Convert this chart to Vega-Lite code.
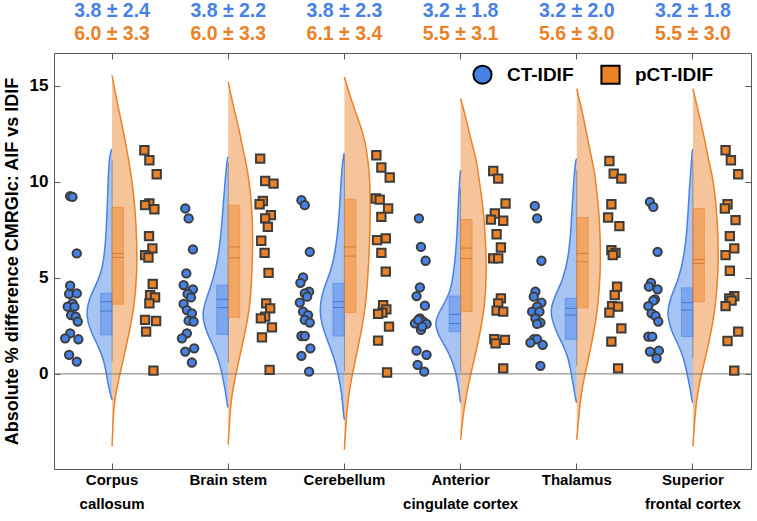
{
"$schema": "https://vega.github.io/schema/vega-lite/v6.json",
"width": 697, "height": 416,
"autosize": {"type": "none"},
"padding": {"left": 54, "top": 53, "right": 6, "bottom": 52},
"config": {"font": "Liberation Sans", "view": {"stroke": "#5a5a5a", "strokeWidth": 1}, "axis": {"grid": false, "domain": false}},
"resolve": {"scale": {"x": "independent"}, "axis": {"y": "independent", "x": "independent"}},
"datasets": {
"violin": [
{"region":"Corpus callosum","group":"CT-IDIF","y":11.7,"w":0},{"region":"Corpus callosum","group":"CT-IDIF","y":11.6,"w":0.013},{"region":"Corpus callosum","group":"CT-IDIF","y":11.0,"w":0.026},{"region":"Corpus callosum","group":"CT-IDIF","y":10.42,"w":0.032},{"region":"Corpus callosum","group":"CT-IDIF","y":7.83,"w":0.046},{"region":"Corpus callosum","group":"CT-IDIF","y":6.1,"w":0.066},{"region":"Corpus callosum","group":"CT-IDIF","y":5.23,"w":0.095},{"region":"Corpus callosum","group":"CT-IDIF","y":4.54,"w":0.146},{"region":"Corpus callosum","group":"CT-IDIF","y":4.02,"w":0.189},{"region":"Corpus callosum","group":"CT-IDIF","y":3.5,"w":0.213},{"region":"Corpus callosum","group":"CT-IDIF","y":2.98,"w":0.218},{"region":"Corpus callosum","group":"CT-IDIF","y":2.46,"w":0.198},{"region":"Corpus callosum","group":"CT-IDIF","y":1.94,"w":0.161},{"region":"Corpus callosum","group":"CT-IDIF","y":1.42,"w":0.118},{"region":"Corpus callosum","group":"CT-IDIF","y":0.9,"w":0.083},{"region":"Corpus callosum","group":"CT-IDIF","y":0.38,"w":0.06},{"region":"Corpus callosum","group":"CT-IDIF","y":-0.14,"w":0.046},{"region":"Corpus callosum","group":"CT-IDIF","y":-0.64,"w":0.03},{"region":"Corpus callosum","group":"CT-IDIF","y":-1.0,"w":0.017},{"region":"Corpus callosum","group":"CT-IDIF","y":-1.35,"w":0},
{"region":"Corpus callosum","group":"pCT-IDIF","y":15.53,"w":0},{"region":"Corpus callosum","group":"pCT-IDIF","y":14.23,"w":0.04},{"region":"Corpus callosum","group":"pCT-IDIF","y":12.5,"w":0.101},{"region":"Corpus callosum","group":"pCT-IDIF","y":12.16,"w":0.112},{"region":"Corpus callosum","group":"pCT-IDIF","y":10.42,"w":0.164},{"region":"Corpus callosum","group":"pCT-IDIF","y":8.69,"w":0.198},{"region":"Corpus callosum","group":"pCT-IDIF","y":6.96,"w":0.213},{"region":"Corpus callosum","group":"pCT-IDIF","y":5.23,"w":0.215},{"region":"Corpus callosum","group":"pCT-IDIF","y":3.5,"w":0.192},{"region":"Corpus callosum","group":"pCT-IDIF","y":1.77,"w":0.135},{"region":"Corpus callosum","group":"pCT-IDIF","y":0.03,"w":0.069},{"region":"Corpus callosum","group":"pCT-IDIF","y":-1.18,"w":0.026},{"region":"Corpus callosum","group":"pCT-IDIF","y":-2.04,"w":0.011},{"region":"Corpus callosum","group":"pCT-IDIF","y":-3.77,"w":0},
{"region":"Brain stem","group":"CT-IDIF","y":11.3,"w":0},{"region":"Brain stem","group":"CT-IDIF","y":11.12,"w":0.011},{"region":"Brain stem","group":"CT-IDIF","y":9.56,"w":0.034},{"region":"Brain stem","group":"CT-IDIF","y":7.83,"w":0.054},{"region":"Brain stem","group":"CT-IDIF","y":6.1,"w":0.083},{"region":"Brain stem","group":"CT-IDIF","y":4.88,"w":0.132},{"region":"Brain stem","group":"CT-IDIF","y":4.02,"w":0.183},{"region":"Brain stem","group":"CT-IDIF","y":3.32,"w":0.218},{"region":"Brain stem","group":"CT-IDIF","y":2.81,"w":0.218},{"region":"Brain stem","group":"CT-IDIF","y":2.11,"w":0.183},{"region":"Brain stem","group":"CT-IDIF","y":1.42,"w":0.126},{"region":"Brain stem","group":"CT-IDIF","y":0.73,"w":0.083},{"region":"Brain stem","group":"CT-IDIF","y":0.03,"w":0.054},{"region":"Brain stem","group":"CT-IDIF","y":-0.83,"w":0.026},{"region":"Brain stem","group":"CT-IDIF","y":-1.7,"w":0.006},{"region":"Brain stem","group":"CT-IDIF","y":-1.75,"w":0},
{"region":"Brain stem","group":"pCT-IDIF","y":15.19,"w":0},{"region":"Brain stem","group":"pCT-IDIF","y":14.23,"w":0.032},{"region":"Brain stem","group":"pCT-IDIF","y":12.5,"w":0.103},{"region":"Brain stem","group":"pCT-IDIF","y":12.16,"w":0.109},{"region":"Brain stem","group":"pCT-IDIF","y":10.42,"w":0.175},{"region":"Brain stem","group":"pCT-IDIF","y":8.69,"w":0.204},{"region":"Brain stem","group":"pCT-IDIF","y":6.96,"w":0.213},{"region":"Brain stem","group":"pCT-IDIF","y":5.23,"w":0.204},{"region":"Brain stem","group":"pCT-IDIF","y":3.5,"w":0.189},{"region":"Brain stem","group":"pCT-IDIF","y":1.77,"w":0.132},{"region":"Brain stem","group":"pCT-IDIF","y":0.03,"w":0.066},{"region":"Brain stem","group":"pCT-IDIF","y":-1.18,"w":0.028},{"region":"Brain stem","group":"pCT-IDIF","y":-2.39,"w":0.011},{"region":"Brain stem","group":"pCT-IDIF","y":-3.69,"w":0},
{"region":"Cerebellum","group":"CT-IDIF","y":11.5,"w":0},{"region":"Cerebellum","group":"CT-IDIF","y":11.46,"w":0.006},{"region":"Cerebellum","group":"CT-IDIF","y":10.42,"w":0.026},{"region":"Cerebellum","group":"CT-IDIF","y":8.69,"w":0.04},{"region":"Cerebellum","group":"CT-IDIF","y":6.96,"w":0.063},{"region":"Cerebellum","group":"CT-IDIF","y":5.58,"w":0.103},{"region":"Cerebellum","group":"CT-IDIF","y":4.71,"w":0.161},{"region":"Cerebellum","group":"CT-IDIF","y":4.02,"w":0.198},{"region":"Cerebellum","group":"CT-IDIF","y":3.32,"w":0.213},{"region":"Cerebellum","group":"CT-IDIF","y":2.63,"w":0.198},{"region":"Cerebellum","group":"CT-IDIF","y":1.77,"w":0.149},{"region":"Cerebellum","group":"CT-IDIF","y":0.9,"w":0.092},{"region":"Cerebellum","group":"CT-IDIF","y":0.03,"w":0.054},{"region":"Cerebellum","group":"CT-IDIF","y":-1.0,"w":0.023},{"region":"Cerebellum","group":"CT-IDIF","y":-2.04,"w":0.009},{"region":"Cerebellum","group":"CT-IDIF","y":-2.39,"w":0},
{"region":"Cerebellum","group":"pCT-IDIF","y":15.45,"w":0},{"region":"Cerebellum","group":"pCT-IDIF","y":14.23,"w":0.06},{"region":"Cerebellum","group":"pCT-IDIF","y":13.37,"w":0.112},{"region":"Cerebellum","group":"pCT-IDIF","y":12.16,"w":0.181},{"region":"Cerebellum","group":"pCT-IDIF","y":10.42,"w":0.218},{"region":"Cerebellum","group":"pCT-IDIF","y":8.69,"w":0.224},{"region":"Cerebellum","group":"pCT-IDIF","y":6.96,"w":0.218},{"region":"Cerebellum","group":"pCT-IDIF","y":5.23,"w":0.204},{"region":"Cerebellum","group":"pCT-IDIF","y":3.5,"w":0.183},{"region":"Cerebellum","group":"pCT-IDIF","y":1.77,"w":0.132},{"region":"Cerebellum","group":"pCT-IDIF","y":0.03,"w":0.069},{"region":"Cerebellum","group":"pCT-IDIF","y":-1.18,"w":0.034},{"region":"Cerebellum","group":"pCT-IDIF","y":-2.39,"w":0.015},{"region":"Cerebellum","group":"pCT-IDIF","y":-3.95,"w":0},
{"region":"Anterior cingulate cortex","group":"CT-IDIF","y":10.6,"w":0},{"region":"Anterior cingulate cortex","group":"CT-IDIF","y":9.6,"w":0.015},{"region":"Anterior cingulate cortex","group":"CT-IDIF","y":7.8,"w":0.026},{"region":"Anterior cingulate cortex","group":"CT-IDIF","y":6.1,"w":0.043},{"region":"Anterior cingulate cortex","group":"CT-IDIF","y":4.9,"w":0.069},{"region":"Anterior cingulate cortex","group":"CT-IDIF","y":4.2,"w":0.095},{"region":"Anterior cingulate cortex","group":"CT-IDIF","y":3.6,"w":0.146},{"region":"Anterior cingulate cortex","group":"CT-IDIF","y":3.1,"w":0.194},{"region":"Anterior cingulate cortex","group":"CT-IDIF","y":2.7,"w":0.218},{"region":"Anterior cingulate cortex","group":"CT-IDIF","y":2.3,"w":0.207},{"region":"Anterior cingulate cortex","group":"CT-IDIF","y":1.9,"w":0.181},{"region":"Anterior cingulate cortex","group":"CT-IDIF","y":1.3,"w":0.12},{"region":"Anterior cingulate cortex","group":"CT-IDIF","y":0.7,"w":0.073},{"region":"Anterior cingulate cortex","group":"CT-IDIF","y":0.1,"w":0.043},{"region":"Anterior cingulate cortex","group":"CT-IDIF","y":-0.6,"w":0.02},{"region":"Anterior cingulate cortex","group":"CT-IDIF","y":-1.5,"w":0},
{"region":"Anterior cingulate cortex","group":"pCT-IDIF","y":14.32,"w":0},{"region":"Anterior cingulate cortex","group":"pCT-IDIF","y":13.54,"w":0.037},{"region":"Anterior cingulate cortex","group":"pCT-IDIF","y":12.16,"w":0.09},{"region":"Anterior cingulate cortex","group":"pCT-IDIF","y":11.1,"w":0.138},{"region":"Anterior cingulate cortex","group":"pCT-IDIF","y":10.42,"w":0.152},{"region":"Anterior cingulate cortex","group":"pCT-IDIF","y":8.69,"w":0.195},{"region":"Anterior cingulate cortex","group":"pCT-IDIF","y":6.96,"w":0.215},{"region":"Anterior cingulate cortex","group":"pCT-IDIF","y":5.23,"w":0.224},{"region":"Anterior cingulate cortex","group":"pCT-IDIF","y":3.5,"w":0.209},{"region":"Anterior cingulate cortex","group":"pCT-IDIF","y":1.77,"w":0.157},{"region":"Anterior cingulate cortex","group":"pCT-IDIF","y":0.03,"w":0.089},{"region":"Anterior cingulate cortex","group":"pCT-IDIF","y":-1.18,"w":0.046},{"region":"Anterior cingulate cortex","group":"pCT-IDIF","y":-2.39,"w":0.017},{"region":"Anterior cingulate cortex","group":"pCT-IDIF","y":-3.43,"w":0},
{"region":"Thalamus","group":"CT-IDIF","y":11.2,"w":0},{"region":"Thalamus","group":"CT-IDIF","y":11.12,"w":0.011},{"region":"Thalamus","group":"CT-IDIF","y":9.56,"w":0.032},{"region":"Thalamus","group":"CT-IDIF","y":7.83,"w":0.046},{"region":"Thalamus","group":"CT-IDIF","y":6.1,"w":0.069},{"region":"Thalamus","group":"CT-IDIF","y":4.88,"w":0.12},{"region":"Thalamus","group":"CT-IDIF","y":4.19,"w":0.178},{"region":"Thalamus","group":"CT-IDIF","y":3.5,"w":0.221},{"region":"Thalamus","group":"CT-IDIF","y":2.98,"w":0.221},{"region":"Thalamus","group":"CT-IDIF","y":2.29,"w":0.183},{"region":"Thalamus","group":"CT-IDIF","y":1.59,"w":0.126},{"region":"Thalamus","group":"CT-IDIF","y":0.9,"w":0.075},{"region":"Thalamus","group":"CT-IDIF","y":0.03,"w":0.047},{"region":"Thalamus","group":"CT-IDIF","y":-0.66,"w":0.028},{"region":"Thalamus","group":"CT-IDIF","y":-1.44,"w":0.006},{"region":"Thalamus","group":"CT-IDIF","y":-1.5,"w":0},
{"region":"Thalamus","group":"pCT-IDIF","y":14.84,"w":0},{"region":"Thalamus","group":"pCT-IDIF","y":13.37,"w":0.058},{"region":"Thalamus","group":"pCT-IDIF","y":12.16,"w":0.095},{"region":"Thalamus","group":"pCT-IDIF","y":10.77,"w":0.144},{"region":"Thalamus","group":"pCT-IDIF","y":10.42,"w":0.155},{"region":"Thalamus","group":"pCT-IDIF","y":8.69,"w":0.189},{"region":"Thalamus","group":"pCT-IDIF","y":6.96,"w":0.204},{"region":"Thalamus","group":"pCT-IDIF","y":5.23,"w":0.204},{"region":"Thalamus","group":"pCT-IDIF","y":3.5,"w":0.183},{"region":"Thalamus","group":"pCT-IDIF","y":1.77,"w":0.138},{"region":"Thalamus","group":"pCT-IDIF","y":0.03,"w":0.071},{"region":"Thalamus","group":"pCT-IDIF","y":-1.18,"w":0.034},{"region":"Thalamus","group":"pCT-IDIF","y":-2.39,"w":0.015},{"region":"Thalamus","group":"pCT-IDIF","y":-3.43,"w":0},
{"region":"Superior frontal cortex","group":"CT-IDIF","y":11.7,"w":0},{"region":"Superior frontal cortex","group":"CT-IDIF","y":11.64,"w":0.006},{"region":"Superior frontal cortex","group":"CT-IDIF","y":11.12,"w":0.011},{"region":"Superior frontal cortex","group":"CT-IDIF","y":9.56,"w":0.032},{"region":"Superior frontal cortex","group":"CT-IDIF","y":7.83,"w":0.046},{"region":"Superior frontal cortex","group":"CT-IDIF","y":6.1,"w":0.075},{"region":"Superior frontal cortex","group":"CT-IDIF","y":4.88,"w":0.126},{"region":"Superior frontal cortex","group":"CT-IDIF","y":4.19,"w":0.178},{"region":"Superior frontal cortex","group":"CT-IDIF","y":3.5,"w":0.213},{"region":"Superior frontal cortex","group":"CT-IDIF","y":2.98,"w":0.218},{"region":"Superior frontal cortex","group":"CT-IDIF","y":2.29,"w":0.189},{"region":"Superior frontal cortex","group":"CT-IDIF","y":1.59,"w":0.132},{"region":"Superior frontal cortex","group":"CT-IDIF","y":0.9,"w":0.083},{"region":"Superior frontal cortex","group":"CT-IDIF","y":0.03,"w":0.05},{"region":"Superior frontal cortex","group":"CT-IDIF","y":-0.66,"w":0.028},{"region":"Superior frontal cortex","group":"CT-IDIF","y":-1.44,"w":0.006},{"region":"Superior frontal cortex","group":"CT-IDIF","y":-1.5,"w":0},
{"region":"Superior frontal cortex","group":"pCT-IDIF","y":14.84,"w":0},{"region":"Superior frontal cortex","group":"pCT-IDIF","y":13.37,"w":0.058},{"region":"Superior frontal cortex","group":"pCT-IDIF","y":12.16,"w":0.103},{"region":"Superior frontal cortex","group":"pCT-IDIF","y":10.77,"w":0.146},{"region":"Superior frontal cortex","group":"pCT-IDIF","y":10.42,"w":0.166},{"region":"Superior frontal cortex","group":"pCT-IDIF","y":8.69,"w":0.204},{"region":"Superior frontal cortex","group":"pCT-IDIF","y":6.96,"w":0.218},{"region":"Superior frontal cortex","group":"pCT-IDIF","y":5.23,"w":0.218},{"region":"Superior frontal cortex","group":"pCT-IDIF","y":3.5,"w":0.195},{"region":"Superior frontal cortex","group":"pCT-IDIF","y":1.77,"w":0.146},{"region":"Superior frontal cortex","group":"pCT-IDIF","y":0.03,"w":0.073},{"region":"Superior frontal cortex","group":"pCT-IDIF","y":-1.18,"w":0.034},{"region":"Superior frontal cortex","group":"pCT-IDIF","y":-2.39,"w":0.015},{"region":"Superior frontal cortex","group":"pCT-IDIF","y":-3.77,"w":0}
],
"box": [
{"region":"Corpus callosum","group":"CT-IDIF","q1":2.03,"q3":4.2,"med":3.27,"mean":3.76,"lo":0.64,"hi":11.1},
{"region":"Corpus callosum","group":"pCT-IDIF","q1":3.63,"q3":8.67,"med":6.27,"mean":6.06,"lo":0.17,"hi":11.64},
{"region":"Brain stem","group":"CT-IDIF","q1":2.06,"q3":4.62,"med":3.45,"mean":3.88,"lo":0.59,"hi":11.0},
{"region":"Brain stem","group":"pCT-IDIF","q1":2.94,"q3":8.78,"med":6.61,"mean":6.04,"lo":0.21,"hi":11.2},
{"region":"Cerebellum","group":"CT-IDIF","q1":1.97,"q3":4.71,"med":3.46,"mean":3.76,"lo":0.12,"hi":11.4},
{"region":"Cerebellum","group":"pCT-IDIF","q1":3.2,"q3":9.09,"med":6.61,"mean":6.13,"lo":0.07,"hi":11.38},
{"region":"Anterior cingulate cortex","group":"CT-IDIF","q1":2.2,"q3":4.05,"med":2.62,"mean":3.1,"lo":0.12,"hi":9.7},
{"region":"Anterior cingulate cortex","group":"pCT-IDIF","q1":3.24,"q3":8.03,"med":6.55,"mean":6.0,"lo":0.29,"hi":10.56},
{"region":"Thalamus","group":"CT-IDIF","q1":1.8,"q3":3.93,"med":3.06,"mean":3.41,"lo":0.42,"hi":10.6},
{"region":"Thalamus","group":"pCT-IDIF","q1":3.44,"q3":8.14,"med":6.27,"mean":5.84,"lo":0.29,"hi":11.08},
{"region":"Superior frontal cortex","group":"CT-IDIF","q1":1.94,"q3":4.48,"med":3.32,"mean":3.71,"lo":0.81,"hi":11.1},
{"region":"Superior frontal cortex","group":"pCT-IDIF","q1":3.76,"q3":8.61,"med":5.75,"mean":5.96,"lo":0.17,"hi":11.64}
],
"ann": [
{"region":"Corpus callosum","ct":"3.8 ± 2.4","pct":"6.0 ± 3.3"},
{"region":"Brain stem","ct":"3.8 ± 2.2","pct":"6.0 ± 3.3"},
{"region":"Cerebellum","ct":"3.8 ± 2.3","pct":"6.1 ± 3.4"},
{"region":"Anterior cingulate cortex","ct":"3.2 ± 1.8","pct":"5.5 ± 3.1"},
{"region":"Thalamus","ct":"3.2 ± 2.0","pct":"5.6 ± 3.0"},
{"region":"Superior frontal cortex","ct":"3.2 ± 1.8","pct":"5.5 ± 3.0"}
],
"points": [
{"region":"Corpus callosum","group":"CT-IDIF","value":9.25,"jitter":-0.361},{"region":"Corpus callosum","group":"CT-IDIF","value":9.21,"jitter":-0.341},{"region":"Corpus callosum","group":"CT-IDIF","value":6.27,"jitter":-0.304},{"region":"Corpus callosum","group":"CT-IDIF","value":4.59,"jitter":-0.361},{"region":"Corpus callosum","group":"CT-IDIF","value":4.16,"jitter":-0.37},{"region":"Corpus callosum","group":"CT-IDIF","value":4.19,"jitter":-0.304},{"region":"Corpus callosum","group":"CT-IDIF","value":3.67,"jitter":-0.341},{"region":"Corpus callosum","group":"CT-IDIF","value":3.5,"jitter":-0.382},{"region":"Corpus callosum","group":"CT-IDIF","value":3.5,"jitter":-0.324},{"region":"Corpus callosum","group":"CT-IDIF","value":3.06,"jitter":-0.353},{"region":"Corpus callosum","group":"CT-IDIF","value":2.98,"jitter":-0.313},{"region":"Corpus callosum","group":"CT-IDIF","value":2.72,"jitter":-0.295},{"region":"Corpus callosum","group":"CT-IDIF","value":2.11,"jitter":-0.361},{"region":"Corpus callosum","group":"CT-IDIF","value":1.85,"jitter":-0.404},{"region":"Corpus callosum","group":"CT-IDIF","value":1.8,"jitter":-0.29},{"region":"Corpus callosum","group":"CT-IDIF","value":0.99,"jitter":-0.37},{"region":"Corpus callosum","group":"CT-IDIF","value":0.64,"jitter":-0.304},
{"region":"Corpus callosum","group":"pCT-IDIF","value":11.64,"jitter":0.278},{"region":"Corpus callosum","group":"pCT-IDIF","value":11.12,"jitter":0.321},{"region":"Corpus callosum","group":"pCT-IDIF","value":10.39,"jitter":0.384},{"region":"Corpus callosum","group":"pCT-IDIF","value":8.87,"jitter":0.321},{"region":"Corpus callosum","group":"pCT-IDIF","value":8.78,"jitter":0.284},{"region":"Corpus callosum","group":"pCT-IDIF","value":8.57,"jitter":0.364},{"region":"Corpus callosum","group":"pCT-IDIF","value":7.17,"jitter":0.318},{"region":"Corpus callosum","group":"pCT-IDIF","value":6.53,"jitter":0.347},{"region":"Corpus callosum","group":"pCT-IDIF","value":6.18,"jitter":0.284},{"region":"Corpus callosum","group":"pCT-IDIF","value":6.06,"jitter":0.313},{"region":"Corpus callosum","group":"pCT-IDIF","value":4.68,"jitter":0.35},{"region":"Corpus callosum","group":"pCT-IDIF","value":4.1,"jitter":0.327},{"region":"Corpus callosum","group":"pCT-IDIF","value":3.98,"jitter":0.37},{"region":"Corpus callosum","group":"pCT-IDIF","value":3.67,"jitter":0.321},{"region":"Corpus callosum","group":"pCT-IDIF","value":2.81,"jitter":0.284},{"region":"Corpus callosum","group":"pCT-IDIF","value":2.75,"jitter":0.379},{"region":"Corpus callosum","group":"pCT-IDIF","value":2.2,"jitter":0.293},{"region":"Corpus callosum","group":"pCT-IDIF","value":0.17,"jitter":0.356},
{"region":"Brain stem","group":"CT-IDIF","value":8.61,"jitter":-0.37},{"region":"Brain stem","group":"CT-IDIF","value":8.09,"jitter":-0.341},{"region":"Brain stem","group":"CT-IDIF","value":6.48,"jitter":-0.304},{"region":"Brain stem","group":"CT-IDIF","value":5.23,"jitter":-0.361},{"region":"Brain stem","group":"CT-IDIF","value":4.62,"jitter":-0.384},{"region":"Brain stem","group":"CT-IDIF","value":4.4,"jitter":-0.304},{"region":"Brain stem","group":"CT-IDIF","value":4.16,"jitter":-0.35},{"region":"Brain stem","group":"CT-IDIF","value":3.98,"jitter":-0.321},{"region":"Brain stem","group":"CT-IDIF","value":3.64,"jitter":-0.384},{"region":"Brain stem","group":"CT-IDIF","value":3.32,"jitter":-0.356},{"region":"Brain stem","group":"CT-IDIF","value":3.15,"jitter":-0.313},{"region":"Brain stem","group":"CT-IDIF","value":2.77,"jitter":-0.341},{"region":"Brain stem","group":"CT-IDIF","value":2.72,"jitter":-0.298},{"region":"Brain stem","group":"CT-IDIF","value":2.11,"jitter":-0.356},{"region":"Brain stem","group":"CT-IDIF","value":1.85,"jitter":-0.399},{"region":"Brain stem","group":"CT-IDIF","value":1.33,"jitter":-0.293},{"region":"Brain stem","group":"CT-IDIF","value":1.16,"jitter":-0.37},{"region":"Brain stem","group":"CT-IDIF","value":0.59,"jitter":-0.313},
{"region":"Brain stem","group":"pCT-IDIF","value":11.2,"jitter":0.275},{"region":"Brain stem","group":"pCT-IDIF","value":10.04,"jitter":0.318},{"region":"Brain stem","group":"pCT-IDIF","value":9.9,"jitter":0.39},{"region":"Brain stem","group":"pCT-IDIF","value":9.0,"jitter":0.298},{"region":"Brain stem","group":"pCT-IDIF","value":8.83,"jitter":0.27},{"region":"Brain stem","group":"pCT-IDIF","value":8.26,"jitter":0.367},{"region":"Brain stem","group":"pCT-IDIF","value":8.09,"jitter":0.318},{"region":"Brain stem","group":"pCT-IDIF","value":7.65,"jitter":0.341},{"region":"Brain stem","group":"pCT-IDIF","value":6.93,"jitter":0.284},{"region":"Brain stem","group":"pCT-IDIF","value":6.3,"jitter":0.313},{"region":"Brain stem","group":"pCT-IDIF","value":5.26,"jitter":0.347},{"region":"Brain stem","group":"pCT-IDIF","value":3.67,"jitter":0.327},{"region":"Brain stem","group":"pCT-IDIF","value":3.41,"jitter":0.361},{"region":"Brain stem","group":"pCT-IDIF","value":2.98,"jitter":0.318},{"region":"Brain stem","group":"pCT-IDIF","value":2.89,"jitter":0.281},{"region":"Brain stem","group":"pCT-IDIF","value":2.42,"jitter":0.376},{"region":"Brain stem","group":"pCT-IDIF","value":1.9,"jitter":0.29},{"region":"Brain stem","group":"pCT-IDIF","value":0.21,"jitter":0.356},
{"region":"Cerebellum","group":"CT-IDIF","value":9.04,"jitter":-0.37},{"region":"Cerebellum","group":"CT-IDIF","value":8.78,"jitter":-0.341},{"region":"Cerebellum","group":"CT-IDIF","value":6.35,"jitter":-0.298},{"region":"Cerebellum","group":"CT-IDIF","value":5.02,"jitter":-0.356},{"region":"Cerebellum","group":"CT-IDIF","value":4.74,"jitter":-0.379},{"region":"Cerebellum","group":"CT-IDIF","value":4.28,"jitter":-0.304},{"region":"Cerebellum","group":"CT-IDIF","value":4.19,"jitter":-0.341},{"region":"Cerebellum","group":"CT-IDIF","value":4.02,"jitter":-0.321},{"region":"Cerebellum","group":"CT-IDIF","value":3.71,"jitter":-0.384},{"region":"Cerebellum","group":"CT-IDIF","value":3.24,"jitter":-0.356},{"region":"Cerebellum","group":"CT-IDIF","value":3.06,"jitter":-0.313},{"region":"Cerebellum","group":"CT-IDIF","value":2.81,"jitter":-0.341},{"region":"Cerebellum","group":"CT-IDIF","value":2.67,"jitter":-0.298},{"region":"Cerebellum","group":"CT-IDIF","value":1.97,"jitter":-0.37},{"region":"Cerebellum","group":"CT-IDIF","value":1.97,"jitter":-0.341},{"region":"Cerebellum","group":"CT-IDIF","value":1.33,"jitter":-0.293},{"region":"Cerebellum","group":"CT-IDIF","value":0.94,"jitter":-0.37},{"region":"Cerebellum","group":"CT-IDIF","value":0.12,"jitter":-0.304},
{"region":"Cerebellum","group":"pCT-IDIF","value":11.38,"jitter":0.275},{"region":"Cerebellum","group":"pCT-IDIF","value":10.74,"jitter":0.318},{"region":"Cerebellum","group":"pCT-IDIF","value":10.22,"jitter":0.39},{"region":"Cerebellum","group":"pCT-IDIF","value":9.13,"jitter":0.27},{"region":"Cerebellum","group":"pCT-IDIF","value":9.07,"jitter":0.304},{"region":"Cerebellum","group":"pCT-IDIF","value":8.61,"jitter":0.376},{"region":"Cerebellum","group":"pCT-IDIF","value":8.17,"jitter":0.318},{"region":"Cerebellum","group":"pCT-IDIF","value":7.05,"jitter":0.356},{"region":"Cerebellum","group":"pCT-IDIF","value":6.96,"jitter":0.281},{"region":"Cerebellum","group":"pCT-IDIF","value":6.3,"jitter":0.318},{"region":"Cerebellum","group":"pCT-IDIF","value":5.32,"jitter":0.356},{"region":"Cerebellum","group":"pCT-IDIF","value":3.58,"jitter":0.333},{"region":"Cerebellum","group":"pCT-IDIF","value":3.36,"jitter":0.361},{"region":"Cerebellum","group":"pCT-IDIF","value":3.19,"jitter":0.327},{"region":"Cerebellum","group":"pCT-IDIF","value":3.12,"jitter":0.29},{"region":"Cerebellum","group":"pCT-IDIF","value":2.46,"jitter":0.384},{"region":"Cerebellum","group":"pCT-IDIF","value":1.73,"jitter":0.29},{"region":"Cerebellum","group":"pCT-IDIF","value":0.07,"jitter":0.367},
{"region":"Anterior cingulate cortex","group":"CT-IDIF","value":8.09,"jitter":-0.359},{"region":"Anterior cingulate cortex","group":"CT-IDIF","value":6.61,"jitter":-0.341},{"region":"Anterior cingulate cortex","group":"CT-IDIF","value":5.89,"jitter":-0.301},{"region":"Anterior cingulate cortex","group":"CT-IDIF","value":4.5,"jitter":-0.35},{"region":"Anterior cingulate cortex","group":"CT-IDIF","value":4.05,"jitter":-0.379},{"region":"Anterior cingulate cortex","group":"CT-IDIF","value":3.55,"jitter":-0.307},{"region":"Anterior cingulate cortex","group":"CT-IDIF","value":2.89,"jitter":-0.35},{"region":"Anterior cingulate cortex","group":"CT-IDIF","value":2.72,"jitter":-0.321},{"region":"Anterior cingulate cortex","group":"CT-IDIF","value":2.63,"jitter":-0.393},{"region":"Anterior cingulate cortex","group":"CT-IDIF","value":2.6,"jitter":-0.293},{"region":"Anterior cingulate cortex","group":"CT-IDIF","value":2.29,"jitter":-0.341},{"region":"Anterior cingulate cortex","group":"CT-IDIF","value":2.81,"jitter":-0.364},{"region":"Anterior cingulate cortex","group":"CT-IDIF","value":2.46,"jitter":-0.33},{"region":"Anterior cingulate cortex","group":"CT-IDIF","value":1.21,"jitter":-0.379},{"region":"Anterior cingulate cortex","group":"CT-IDIF","value":0.99,"jitter":-0.293},{"region":"Anterior cingulate cortex","group":"CT-IDIF","value":0.47,"jitter":-0.37},{"region":"Anterior cingulate cortex","group":"CT-IDIF","value":0.12,"jitter":-0.313},
{"region":"Anterior cingulate cortex","group":"pCT-IDIF","value":10.56,"jitter":0.281},{"region":"Anterior cingulate cortex","group":"pCT-IDIF","value":10.16,"jitter":0.324},{"region":"Anterior cingulate cortex","group":"pCT-IDIF","value":8.87,"jitter":0.387},{"region":"Anterior cingulate cortex","group":"pCT-IDIF","value":8.35,"jitter":0.295},{"region":"Anterior cingulate cortex","group":"pCT-IDIF","value":8.03,"jitter":0.261},{"region":"Anterior cingulate cortex","group":"pCT-IDIF","value":7.97,"jitter":0.367},{"region":"Anterior cingulate cortex","group":"pCT-IDIF","value":7.27,"jitter":0.31},{"region":"Anterior cingulate cortex","group":"pCT-IDIF","value":6.58,"jitter":0.347},{"region":"Anterior cingulate cortex","group":"pCT-IDIF","value":6.01,"jitter":0.281},{"region":"Anterior cingulate cortex","group":"pCT-IDIF","value":6.01,"jitter":0.324},{"region":"Anterior cingulate cortex","group":"pCT-IDIF","value":3.93,"jitter":0.347},{"region":"Anterior cingulate cortex","group":"pCT-IDIF","value":3.67,"jitter":0.324},{"region":"Anterior cingulate cortex","group":"pCT-IDIF","value":3.29,"jitter":0.31},{"region":"Anterior cingulate cortex","group":"pCT-IDIF","value":3.24,"jitter":0.367},{"region":"Anterior cingulate cortex","group":"pCT-IDIF","value":1.8,"jitter":0.29},{"region":"Anterior cingulate cortex","group":"pCT-IDIF","value":1.77,"jitter":0.382},{"region":"Anterior cingulate cortex","group":"pCT-IDIF","value":1.59,"jitter":0.301},{"region":"Anterior cingulate cortex","group":"pCT-IDIF","value":0.29,"jitter":0.367},
{"region":"Thalamus","group":"CT-IDIF","value":8.74,"jitter":-0.361},{"region":"Thalamus","group":"CT-IDIF","value":8.09,"jitter":-0.341},{"region":"Thalamus","group":"CT-IDIF","value":5.89,"jitter":-0.304},{"region":"Thalamus","group":"CT-IDIF","value":4.28,"jitter":-0.356},{"region":"Thalamus","group":"CT-IDIF","value":4.02,"jitter":-0.37},{"region":"Thalamus","group":"CT-IDIF","value":3.71,"jitter":-0.304},{"region":"Thalamus","group":"CT-IDIF","value":3.5,"jitter":-0.341},{"region":"Thalamus","group":"CT-IDIF","value":3.24,"jitter":-0.384},{"region":"Thalamus","group":"CT-IDIF","value":3.24,"jitter":-0.321},{"region":"Thalamus","group":"CT-IDIF","value":2.89,"jitter":-0.356},{"region":"Thalamus","group":"CT-IDIF","value":2.67,"jitter":-0.313},{"region":"Thalamus","group":"CT-IDIF","value":2.6,"jitter":-0.341},{"region":"Thalamus","group":"CT-IDIF","value":1.8,"jitter":-0.37},{"region":"Thalamus","group":"CT-IDIF","value":1.8,"jitter":-0.341},{"region":"Thalamus","group":"CT-IDIF","value":1.63,"jitter":-0.399},{"region":"Thalamus","group":"CT-IDIF","value":1.51,"jitter":-0.293},{"region":"Thalamus","group":"CT-IDIF","value":0.42,"jitter":-0.313},
{"region":"Thalamus","group":"pCT-IDIF","value":11.08,"jitter":0.281},{"region":"Thalamus","group":"pCT-IDIF","value":10.42,"jitter":0.318},{"region":"Thalamus","group":"pCT-IDIF","value":10.16,"jitter":0.384},{"region":"Thalamus","group":"pCT-IDIF","value":8.83,"jitter":0.298},{"region":"Thalamus","group":"pCT-IDIF","value":8.14,"jitter":0.27},{"region":"Thalamus","group":"pCT-IDIF","value":7.69,"jitter":0.367},{"region":"Thalamus","group":"pCT-IDIF","value":6.44,"jitter":0.298},{"region":"Thalamus","group":"pCT-IDIF","value":6.3,"jitter":0.333},{"region":"Thalamus","group":"pCT-IDIF","value":6.18,"jitter":0.31},{"region":"Thalamus","group":"pCT-IDIF","value":4.54,"jitter":0.347},{"region":"Thalamus","group":"pCT-IDIF","value":4.1,"jitter":0.327},{"region":"Thalamus","group":"pCT-IDIF","value":3.53,"jitter":0.304},{"region":"Thalamus","group":"pCT-IDIF","value":3.5,"jitter":0.356},{"region":"Thalamus","group":"pCT-IDIF","value":3.19,"jitter":0.281},{"region":"Thalamus","group":"pCT-IDIF","value":2.37,"jitter":0.384},{"region":"Thalamus","group":"pCT-IDIF","value":1.68,"jitter":0.298},{"region":"Thalamus","group":"pCT-IDIF","value":0.29,"jitter":0.356},
{"region":"Superior frontal cortex","group":"CT-IDIF","value":8.95,"jitter":-0.37},{"region":"Superior frontal cortex","group":"CT-IDIF","value":8.69,"jitter":-0.341},{"region":"Superior frontal cortex","group":"CT-IDIF","value":6.35,"jitter":-0.304},{"region":"Superior frontal cortex","group":"CT-IDIF","value":4.74,"jitter":-0.361},{"region":"Superior frontal cortex","group":"CT-IDIF","value":4.54,"jitter":-0.379},{"region":"Superior frontal cortex","group":"CT-IDIF","value":4.4,"jitter":-0.304},{"region":"Superior frontal cortex","group":"CT-IDIF","value":3.88,"jitter":-0.327},{"region":"Superior frontal cortex","group":"CT-IDIF","value":3.81,"jitter":-0.341},{"region":"Superior frontal cortex","group":"CT-IDIF","value":3.53,"jitter":-0.384},{"region":"Superior frontal cortex","group":"CT-IDIF","value":3.15,"jitter":-0.356},{"region":"Superior frontal cortex","group":"CT-IDIF","value":3.01,"jitter":-0.321},{"region":"Superior frontal cortex","group":"CT-IDIF","value":2.72,"jitter":-0.298},{"region":"Superior frontal cortex","group":"CT-IDIF","value":1.94,"jitter":-0.384},{"region":"Superior frontal cortex","group":"CT-IDIF","value":1.94,"jitter":-0.35},{"region":"Superior frontal cortex","group":"CT-IDIF","value":1.21,"jitter":-0.293},{"region":"Superior frontal cortex","group":"CT-IDIF","value":1.16,"jitter":-0.37},{"region":"Superior frontal cortex","group":"CT-IDIF","value":0.81,"jitter":-0.313},
{"region":"Superior frontal cortex","group":"pCT-IDIF","value":11.64,"jitter":0.281},{"region":"Superior frontal cortex","group":"pCT-IDIF","value":11.12,"jitter":0.327},{"region":"Superior frontal cortex","group":"pCT-IDIF","value":10.39,"jitter":0.39},{"region":"Superior frontal cortex","group":"pCT-IDIF","value":8.83,"jitter":0.298},{"region":"Superior frontal cortex","group":"pCT-IDIF","value":8.61,"jitter":0.275},{"region":"Superior frontal cortex","group":"pCT-IDIF","value":8.0,"jitter":0.367},{"region":"Superior frontal cortex","group":"pCT-IDIF","value":7.17,"jitter":0.318},{"region":"Superior frontal cortex","group":"pCT-IDIF","value":6.53,"jitter":0.356},{"region":"Superior frontal cortex","group":"pCT-IDIF","value":6.18,"jitter":0.281},{"region":"Superior frontal cortex","group":"pCT-IDIF","value":5.37,"jitter":0.318},{"region":"Superior frontal cortex","group":"pCT-IDIF","value":4.05,"jitter":0.356},{"region":"Superior frontal cortex","group":"pCT-IDIF","value":3.93,"jitter":0.313},{"region":"Superior frontal cortex","group":"pCT-IDIF","value":3.81,"jitter":0.333},{"region":"Superior frontal cortex","group":"pCT-IDIF","value":3.53,"jitter":0.281},{"region":"Superior frontal cortex","group":"pCT-IDIF","value":2.2,"jitter":0.39},{"region":"Superior frontal cortex","group":"pCT-IDIF","value":1.71,"jitter":0.298},{"region":"Superior frontal cortex","group":"pCT-IDIF","value":0.17,"jitter":0.356}
]
},
"layer": [
{"data":{"name":"violin"},"transform":[{"filter":"datum.region == 'Corpus callosum' && datum.group == 'CT-IDIF'"}],"mark":{"type":"area","orient":"horizontal","interpolate":"basis","color":"#4682e6","fillOpacity":0.47,"line":{"color":"#4682e6","strokeWidth":1.5}},"encoding":{"y":{"field":"y","type":"quantitative","scale":{"domain":[-4.95,16.7],"nice":false,"zero":false},"axis":null},"x":{"field":"w","type":"quantitative","scale":{"domain":[-5.5,0.5],"reverse":true,"nice":false,"zero":false},"axis":null},"x2":{"datum":0},"order":{"value":null}}},
{"data":{"name":"violin"},"transform":[{"filter":"datum.region == 'Brain stem' && datum.group == 'CT-IDIF'"}],"mark":{"type":"area","orient":"horizontal","interpolate":"basis","color":"#4682e6","fillOpacity":0.47,"line":{"color":"#4682e6","strokeWidth":1.5}},"encoding":{"y":{"field":"y","type":"quantitative","scale":{"domain":[-4.95,16.7],"nice":false,"zero":false},"axis":null},"x":{"field":"w","type":"quantitative","scale":{"domain":[-4.5,1.5],"reverse":true,"nice":false,"zero":false},"axis":null},"x2":{"datum":0},"order":{"value":null}}},
{"data":{"name":"violin"},"transform":[{"filter":"datum.region == 'Cerebellum' && datum.group == 'CT-IDIF'"}],"mark":{"type":"area","orient":"horizontal","interpolate":"basis","color":"#4682e6","fillOpacity":0.47,"line":{"color":"#4682e6","strokeWidth":1.5}},"encoding":{"y":{"field":"y","type":"quantitative","scale":{"domain":[-4.95,16.7],"nice":false,"zero":false},"axis":null},"x":{"field":"w","type":"quantitative","scale":{"domain":[-3.5,2.5],"reverse":true,"nice":false,"zero":false},"axis":null},"x2":{"datum":0},"order":{"value":null}}},
{"data":{"name":"violin"},"transform":[{"filter":"datum.region == 'Anterior cingulate cortex' && datum.group == 'CT-IDIF'"}],"mark":{"type":"area","orient":"horizontal","interpolate":"basis","color":"#4682e6","fillOpacity":0.47,"line":{"color":"#4682e6","strokeWidth":1.5}},"encoding":{"y":{"field":"y","type":"quantitative","scale":{"domain":[-4.95,16.7],"nice":false,"zero":false},"axis":null},"x":{"field":"w","type":"quantitative","scale":{"domain":[-2.5,3.5],"reverse":true,"nice":false,"zero":false},"axis":null},"x2":{"datum":0},"order":{"value":null}}},
{"data":{"name":"violin"},"transform":[{"filter":"datum.region == 'Thalamus' && datum.group == 'CT-IDIF'"}],"mark":{"type":"area","orient":"horizontal","interpolate":"basis","color":"#4682e6","fillOpacity":0.47,"line":{"color":"#4682e6","strokeWidth":1.5}},"encoding":{"y":{"field":"y","type":"quantitative","scale":{"domain":[-4.95,16.7],"nice":false,"zero":false},"axis":null},"x":{"field":"w","type":"quantitative","scale":{"domain":[-1.5,4.5],"reverse":true,"nice":false,"zero":false},"axis":null},"x2":{"datum":0},"order":{"value":null}}},
{"data":{"name":"violin"},"transform":[{"filter":"datum.region == 'Superior frontal cortex' && datum.group == 'CT-IDIF'"}],"mark":{"type":"area","orient":"horizontal","interpolate":"basis","color":"#4682e6","fillOpacity":0.47,"line":{"color":"#4682e6","strokeWidth":1.5}},"encoding":{"y":{"field":"y","type":"quantitative","scale":{"domain":[-4.95,16.7],"nice":false,"zero":false},"axis":null},"x":{"field":"w","type":"quantitative","scale":{"domain":[-0.5,5.5],"reverse":true,"nice":false,"zero":false},"axis":null},"x2":{"datum":0},"order":{"value":null}}},
{"data":{"name":"violin"},"transform":[{"filter":"datum.region == 'Corpus callosum' && datum.group == 'pCT-IDIF'"}],"mark":{"type":"area","orient":"horizontal","interpolate":"basis","color":"#eb8228","fillOpacity":0.47,"line":{"color":"#eb8228","strokeWidth":1.5}},"encoding":{"y":{"field":"y","type":"quantitative","scale":{"domain":[-4.95,16.7],"nice":false,"zero":false},"axis":null},"x":{"field":"w","type":"quantitative","scale":{"domain":[-0.5,5.5],"nice":false,"zero":false},"axis":null},"x2":{"datum":0},"order":{"value":null}}},
{"data":{"name":"violin"},"transform":[{"filter":"datum.region == 'Brain stem' && datum.group == 'pCT-IDIF'"}],"mark":{"type":"area","orient":"horizontal","interpolate":"basis","color":"#eb8228","fillOpacity":0.47,"line":{"color":"#eb8228","strokeWidth":1.5}},"encoding":{"y":{"field":"y","type":"quantitative","scale":{"domain":[-4.95,16.7],"nice":false,"zero":false},"axis":null},"x":{"field":"w","type":"quantitative","scale":{"domain":[-1.5,4.5],"nice":false,"zero":false},"axis":null},"x2":{"datum":0},"order":{"value":null}}},
{"data":{"name":"violin"},"transform":[{"filter":"datum.region == 'Cerebellum' && datum.group == 'pCT-IDIF'"}],"mark":{"type":"area","orient":"horizontal","interpolate":"basis","color":"#eb8228","fillOpacity":0.47,"line":{"color":"#eb8228","strokeWidth":1.5}},"encoding":{"y":{"field":"y","type":"quantitative","scale":{"domain":[-4.95,16.7],"nice":false,"zero":false},"axis":null},"x":{"field":"w","type":"quantitative","scale":{"domain":[-2.5,3.5],"nice":false,"zero":false},"axis":null},"x2":{"datum":0},"order":{"value":null}}},
{"data":{"name":"violin"},"transform":[{"filter":"datum.region == 'Anterior cingulate cortex' && datum.group == 'pCT-IDIF'"}],"mark":{"type":"area","orient":"horizontal","interpolate":"basis","color":"#eb8228","fillOpacity":0.47,"line":{"color":"#eb8228","strokeWidth":1.5}},"encoding":{"y":{"field":"y","type":"quantitative","scale":{"domain":[-4.95,16.7],"nice":false,"zero":false},"axis":null},"x":{"field":"w","type":"quantitative","scale":{"domain":[-3.5,2.5],"nice":false,"zero":false},"axis":null},"x2":{"datum":0},"order":{"value":null}}},
{"data":{"name":"violin"},"transform":[{"filter":"datum.region == 'Thalamus' && datum.group == 'pCT-IDIF'"}],"mark":{"type":"area","orient":"horizontal","interpolate":"basis","color":"#eb8228","fillOpacity":0.47,"line":{"color":"#eb8228","strokeWidth":1.5}},"encoding":{"y":{"field":"y","type":"quantitative","scale":{"domain":[-4.95,16.7],"nice":false,"zero":false},"axis":null},"x":{"field":"w","type":"quantitative","scale":{"domain":[-4.5,1.5],"nice":false,"zero":false},"axis":null},"x2":{"datum":0},"order":{"value":null}}},
{"data":{"name":"violin"},"transform":[{"filter":"datum.region == 'Superior frontal cortex' && datum.group == 'pCT-IDIF'"}],"mark":{"type":"area","orient":"horizontal","interpolate":"basis","color":"#eb8228","fillOpacity":0.47,"line":{"color":"#eb8228","strokeWidth":1.5}},"encoding":{"y":{"field":"y","type":"quantitative","scale":{"domain":[-4.95,16.7],"nice":false,"zero":false},"axis":null},"x":{"field":"w","type":"quantitative","scale":{"domain":[-5.5,0.5],"nice":false,"zero":false},"axis":null},"x2":{"datum":0},"order":{"value":null}}},
{"data":{"values":[{}]},"mark":{"type":"rule","color":"#7a7a7a","strokeWidth":1},"encoding":{"y":{"datum":0,"type":"quantitative","scale":{"domain":[-4.95,16.7],"nice":false,"zero":false},"axis":null}}},
{"data":{"name":"box"},"transform":[{"filter":"datum.group == 'CT-IDIF'"}],"mark":{"type":"rule","color":"#8c8c8c","strokeWidth":1},
 "encoding":{"x":{"field":"region","type":"nominal","scale":{"type":"band","domain":["Corpus callosum","Brain stem","Cerebellum","Anterior cingulate cortex","Thalamus","Superior frontal cortex"],"paddingInner":0,"paddingOuter":0},"axis":{"orient":"top","labels":false,"tickSize":-6,"tickColor":"#555555","domain":false,"title":null}},
 "y":{"field":"lo","type":"quantitative","scale":{"domain":[-4.95,16.7],"nice":false,"zero":false},"axis":{"orient":"right","values":[0,5,10,15],"labels":false,"tickSize":-6,"tickColor":"#555555","domain":false,"grid":false,"title":null}},
 "y2":{"field":"hi"}}},
{"encoding":{"x":{"field":"region","type":"nominal","title":null,"scale":{"type":"band","domain":["Corpus callosum","Brain stem","Cerebellum","Anterior cingulate cortex","Thalamus","Superior frontal cortex"],"paddingInner":0,"paddingOuter":0},
  "axis":{"orient":"bottom","title":null,"labelAngle":0,"labelExpr":"datum.label == 'Brain stem' || indexof(datum.label, ' ') < 0 ? datum.label : [substring(datum.label, 0, indexof(datum.label, ' ')), substring(datum.label, indexof(datum.label, ' ') + 1)]","labelFont":"Liberation Sans","labelFontSize":15,"labelFontWeight":"bold","labelColor":"black","labelLineHeight":24,"labelPadding":9,"labelLimit":300,"tickSize":-6,"tickColor":"#555555","domain":false}}},
 "layer":[
  {"data":{"name":"box"},"transform":[{"filter":"datum.group == 'CT-IDIF'"}],"mark":{"type":"bar","width":11.5,"xOffset":-5.75,"fill":"#4682e6","fillOpacity":0.45,"stroke":"#4682e6","strokeOpacity":0.55,"strokeWidth":1},
   "encoding":{"y":{"field":"q1","type":"quantitative","title":"Absolute % difference CMRGlc: AIF vs IDIF","scale":{"domain":[-4.95,16.7],"nice":false,"zero":false},"axis":{"values":[0,5,10,15],"labelFontSize":17,"labelFontWeight":"bold","labelColor":"black","tickSize":-6,"tickColor":"#555555","labelPadding":12,"domain":false,"grid":false,"titleFontSize":18,"titleFontWeight":"bold","titleColor":"black","titlePadding":8}},"y2":{"field":"q3"}}},
  {"data":{"name":"box"},"transform":[{"filter":"datum.group == 'pCT-IDIF'"}],"mark":{"type":"bar","width":11.5,"xOffset":5.75,"fill":"#eb8228","fillOpacity":0.45,"stroke":"#eb8228","strokeOpacity":0.55,"strokeWidth":1},
   "encoding":{"y":{"field":"q1","type":"quantitative","title":"Absolute % difference CMRGlc: AIF vs IDIF","scale":{"domain":[-4.95,16.7],"nice":false,"zero":false}},"y2":{"field":"q3"}}},
  {"data":{"name":"box"},"transform":[{"filter":"datum.group == 'CT-IDIF'"}],"mark":{"type":"tick","size":11.5,"thickness":1,"xOffset":-5.75,"color":"#3a6cc8","opacity":0.8},
   "encoding":{"y":{"field":"med","type":"quantitative","title":"Absolute % difference CMRGlc: AIF vs IDIF","scale":{"domain":[-4.95,16.7],"nice":false,"zero":false}}}},
  {"data":{"name":"box"},"transform":[{"filter":"datum.group == 'CT-IDIF'"}],"mark":{"type":"tick","size":11.5,"thickness":1,"xOffset":-5.75,"color":"#3a6cc8","opacity":0.8,"strokeDash":[2,2]},
   "encoding":{"y":{"field":"mean","type":"quantitative","title":"Absolute % difference CMRGlc: AIF vs IDIF","scale":{"domain":[-4.95,16.7],"nice":false,"zero":false}}}},
  {"data":{"name":"box"},"transform":[{"filter":"datum.group == 'pCT-IDIF'"}],"mark":{"type":"tick","size":11.5,"thickness":1,"xOffset":5.75,"color":"#d4701a","opacity":0.8},
   "encoding":{"y":{"field":"med","type":"quantitative","title":"Absolute % difference CMRGlc: AIF vs IDIF","scale":{"domain":[-4.95,16.7],"nice":false,"zero":false}}}},
  {"data":{"name":"box"},"transform":[{"filter":"datum.group == 'pCT-IDIF'"}],"mark":{"type":"tick","size":11.5,"thickness":1,"xOffset":5.75,"color":"#d4701a","opacity":0.8,"strokeDash":[2,2]},
   "encoding":{"y":{"field":"mean","type":"quantitative","title":"Absolute % difference CMRGlc: AIF vs IDIF","scale":{"domain":[-4.95,16.7],"nice":false,"zero":false}}}},
  {"data":{"name":"points"},"mark":{"type":"point","filled":true,"size":70,"stroke":"#3c3c3c","strokeWidth":2,"opacity":1},
   "encoding":{"xOffset":{"field":"jitter","type":"quantitative","scale":{"domain":[-0.5,0.5],"nice":false,"zero":false}},
    "y":{"field":"value","type":"quantitative","title":"Absolute % difference CMRGlc: AIF vs IDIF","scale":{"domain":[-4.95,16.7],"nice":false,"zero":false}},
    "color":{"field":"group","type":"nominal","scale":{"domain":["CT-IDIF","pCT-IDIF"],"range":["#4682e6","#eb8228"]},"legend":{"orient":"none","legendX":418,"legendY":11,"direction":"horizontal","title":null,"symbolSize":330,"symbolStrokeColor":"black","symbolStrokeWidth":2,"symbolOpacity":1,"labelFont":"Liberation Sans","labelFontSize":19,"labelFontWeight":"bold","labelColor":"black","labelOffset":14,"columnPadding":23,"padding":0,"encode":{"symbols":{"update":{"stroke":{"value":"black"},"strokeWidth":{"value":2}}}}}},
    "shape":{"field":"group","type":"nominal","scale":{"domain":["CT-IDIF","pCT-IDIF"],"range":["circle","square"]},"legend":{"orient":"none","legendX":418,"legendY":11,"direction":"horizontal","title":null,"symbolSize":330,"symbolStrokeColor":"black","symbolStrokeWidth":2,"symbolOpacity":1,"labelFont":"Liberation Sans","labelFontSize":19,"labelFontWeight":"bold","labelColor":"black","labelOffset":14,"columnPadding":23,"padding":0,"encode":{"symbols":{"update":{"stroke":{"value":"black"},"strokeWidth":{"value":2}}}}}}}}
 ]},
{"data":{"name":"ann"},"mark":{"type":"text","font":"Liberation Sans","fontSize":19.5,"fontWeight":"bold","color":"#4682e6","baseline":"middle","align":"center"},
 "encoding":{"x":{"field":"region","type":"nominal","scale":{"type":"band","domain":["Corpus callosum","Brain stem","Cerebellum","Anterior cingulate cortex","Thalamus","Superior frontal cortex"],"paddingInner":0,"paddingOuter":0},"axis":null},"y":{"datum":18.9,"type":"quantitative","scale":{"domain":[-4.95,16.7],"nice":false,"zero":false},"axis":null},"text":{"field":"ct"}}},
{"data":{"name":"ann"},"mark":{"type":"text","font":"Liberation Sans","fontSize":19.5,"fontWeight":"bold","color":"#eb8228","baseline":"middle","align":"center"},
 "encoding":{"x":{"field":"region","type":"nominal","scale":{"type":"band","domain":["Corpus callosum","Brain stem","Cerebellum","Anterior cingulate cortex","Thalamus","Superior frontal cortex"],"paddingInner":0,"paddingOuter":0},"axis":null},"y":{"datum":17.7,"type":"quantitative","scale":{"domain":[-4.95,16.7],"nice":false,"zero":false},"axis":null},"text":{"field":"pct"}}}
]
}
